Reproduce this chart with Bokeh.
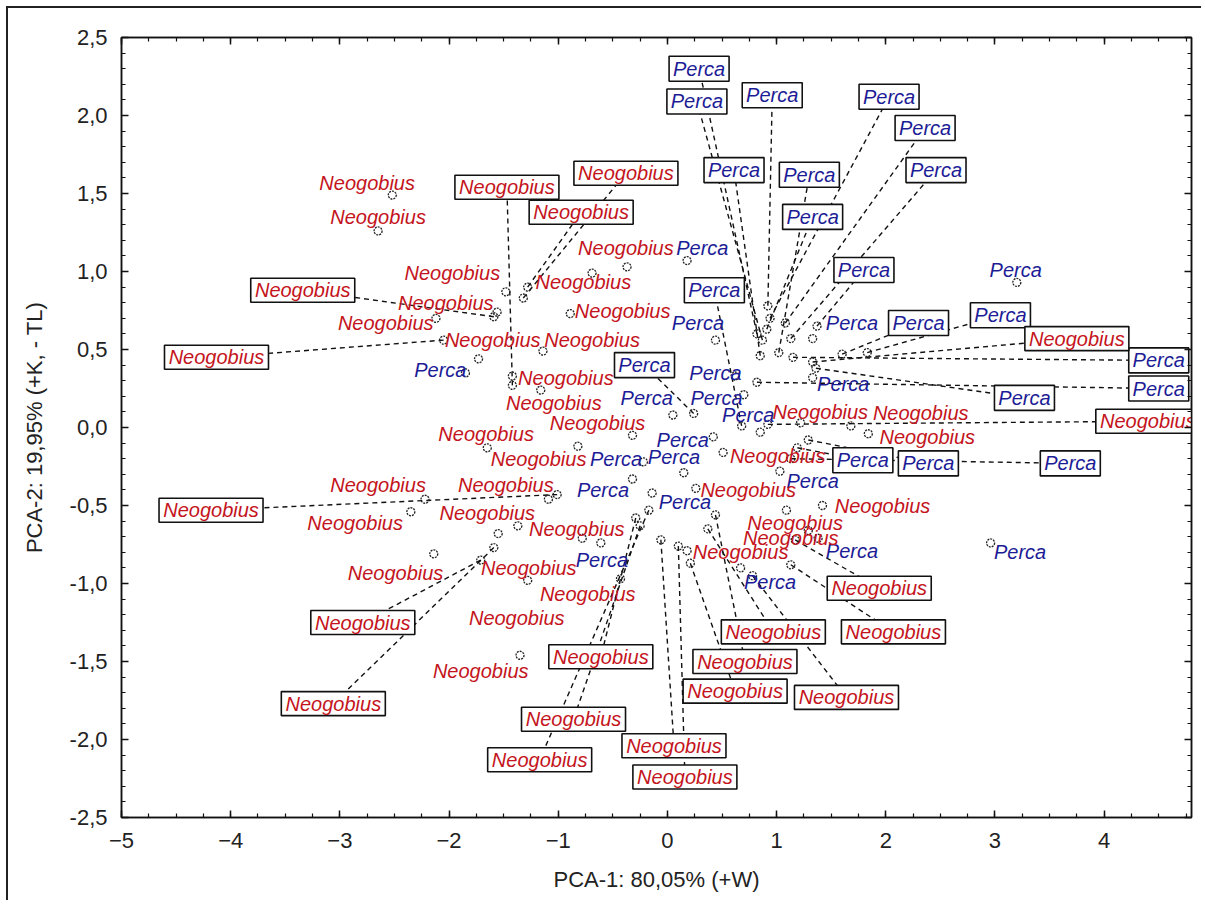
from bokeh.plotting import figure
from bokeh.models import (LinearAxis, FixedTicker, CustomJSTickFormatter,
                          ColumnDataSource, Range1d)
from bokeh.core.properties import value
from bokeh.embed import file_html
from bokeh.resources import INLINE

# ---------------- data (PCA scores) ----------------
# Perca, labels in boxes with leader lines
perca_box_pc1 = [0.82, 0.87, 0.92, 0.94, 1.08, 1.13, 0.85, 1.02, 0.91, 1.37,
                 1.60, 1.83, 1.15, 0.82, 1.36, 1.19, 1.29, 1.13, 0.68, 0.24]
perca_box_pc2 = [0.60, 0.56, 0.78, 0.70, 0.67, 0.57, 0.46, 0.48, 0.63, 0.65,
                 0.47, 0.48, 0.45, 0.29, 0.38, -0.13, -0.08, -0.20, 0.01, 0.09]
perca_box_lab_x = [0.29, 0.27, 0.96, 2.03, 2.36, 2.46, 0.61, 1.30, 1.33, 1.80,
                   2.30, 3.05, 4.50, 4.50, 3.27, 1.79, 2.39, 3.69, 0.43, -0.21]
perca_box_lab_y = [2.30, 2.09, 2.13, 2.12, 1.92, 1.65, 1.65, 1.62, 1.35, 1.01,
                   0.67, 0.72, 0.43, 0.25, 0.19, -0.21, -0.23, -0.23, 0.88, 0.40]

# Perca, plain labels
perca_pc1 = [0.18, 3.20, 0.44, 1.33, -1.85, 0.62, 1.33, 0.05, 0.70, 0.85,
             0.42, 0.15, -0.22, -0.32, -0.14, 1.03, -0.78, 1.38, 2.96, 0.67]
perca_pc2 = [1.07, 0.93, 0.56, 0.57, 0.35, 0.33, 0.32, 0.08, 0.21, -0.03,
             -0.06, -0.29, -0.22, -0.33, -0.42, -0.28, -0.71, -0.71, -0.74, -0.90]
perca_lab_x = [0.32, 3.19, 0.28, 1.69, -2.08, 0.44, 1.61, -0.19, 0.45, 0.74,
               0.14, 0.06, -0.47, -0.59, 0.16, 1.33, -0.60, 1.69, 3.23, 0.94]
perca_lab_y = [1.15, 1.01, 0.67, 0.67, 0.37, 0.35, 0.28, 0.19, 0.19, 0.08,
               -0.08, -0.19, -0.20, -0.40, -0.48, -0.34, -0.85, -0.79, -0.80, -0.99]

# Neogobius, labels in boxes with leader lines
neo_box_pc1 = [-1.32, -1.42, -1.28, -1.59, -2.05, 1.33, 0.92, 1.17, 1.13, 0.37,
               0.44, 0.21, 0.78, -0.29, -0.25, -0.17, -0.06, 0.10, -1.71, -1.59, -1.01]
neo_box_pc2 = [0.83, 0.27, 0.90, 0.71, 0.56, 0.42, 0.02, -0.72, -0.88, -0.65,
               -0.56, -0.87, -0.95, -0.58, -0.63, -0.53, -0.72, -0.76, -0.85, -0.77, -0.43]
neo_box_lab_x = [-0.38, -1.47, -0.79, -3.34, -4.13, 3.75, 4.40, 1.94, 2.07, 0.97,
                 0.71, 0.62, 1.64, -0.61, -0.86, -1.17, 0.06, 0.16, -2.79, -3.06, -4.18]
neo_box_lab_y = [1.63, 1.54, 1.38, 0.88, 0.45, 0.57, 0.04, -1.03, -1.31, -1.31,
                 -1.50, -1.69, -1.73, -1.47, -1.87, -2.13, -2.04, -2.24, -1.25, -1.77, -0.53]

# Neogobius, plain labels
neo_pc1 = [-2.52, -2.65, -1.48, -1.56, -2.12, -1.73, -1.14, -0.37, -0.69, -0.89,
           -1.42, -1.16, -0.32, -1.65, -0.82, -2.22, -1.09, -2.35, -1.37, -0.61,
           -2.14, -1.28, -0.43, -1.55, -1.35, 0.26, 0.18, 1.22, 1.68, 1.84,
           1.09, 1.42, 1.29, 0.51]
neo_pc2 = [1.49, 1.26, 0.87, 0.74, 0.70, 0.44, 0.49, 1.03, 0.99, 0.73,
           0.33, 0.24, -0.05, -0.13, -0.12, -0.46, -0.46, -0.54, -0.63, -0.74,
           -0.81, -0.98, -0.97, -0.68, -1.46, -0.39, -0.79, 0.03, 0.01, -0.04,
           -0.53, -0.50, -0.66, -0.16]
neo_lab_x = [-2.75, -2.65, -1.97, -2.03, -2.58, -1.60, -0.69, -0.38, -0.77, -0.41,
             -0.93, -1.04, -0.64, -1.66, -1.18, -2.65, -1.48, -2.86, -1.65, -0.83,
             -2.49, -1.27, -0.73, -1.38, -1.71, 0.74, 0.67, 1.40, 2.32, 2.38,
             1.17, 1.97, 1.13, 1.01]
neo_lab_y = [1.57, 1.35, 0.99, 0.80, 0.67, 0.56, 0.56, 1.15, 0.93, 0.75,
             0.32, 0.16, 0.03, -0.04, -0.20, -0.37, -0.37, -0.61, -0.55, -0.65,
             -0.93, -0.90, -1.07, -1.22, -1.56, -0.40, -0.80, 0.10, 0.09, -0.06,
             -0.61, -0.50, -0.71, -0.18]

x_ticks = [-5, -4, -3, -2, -1, 0, 1, 2, 3, 4]
y_ticks = [-2.5, -2.0, -1.5, -1.0, -0.5, 0.0, 0.5, 1.0, 1.5, 2.0, 2.5]

RED = "#c41420"
BLUE = "#1c1c96"
FONT = "Liberation Sans"

# ---------------- figure ----------------
p = figure(frame_width=1070, frame_height=780,
           x_range=Range1d(-5, 4.8), y_range=Range1d(-2.5, 2.5),
           output_backend="svg", toolbar_location=None,
           background_fill_color="white", border_fill_color="white")
p.min_border_left = 113
p.min_border_right = 10
p.min_border_top = 29
p.min_border_bottom = 83
p.styles = {"margin-left": "6px", "margin-top": "6px",
            "border-top": "2px solid #222", "border-left": "2px solid #222"}
p.xgrid.visible = False
p.ygrid.visible = False
p.outline_line_color = "#111"
p.outline_line_width = 1.5

x_minor = [-5 + 0.25 * i for i in range(40)]
y_minor = [round(-2.5 + 0.1 * i, 2) for i in range(51)]
xt = FixedTicker(ticks=x_ticks, minor_ticks=x_minor)
yt = FixedTicker(ticks=y_ticks, minor_ticks=y_minor)
yfmt = CustomJSTickFormatter(code="return tick.toFixed(1).replace('.', ',');")


def style_axis(ax, labels=True):
    ax.axis_line_color = "#111"
    ax.axis_line_width = 1.5
    ax.major_tick_in = 7
    ax.major_tick_out = 0
    ax.minor_tick_in = 4
    ax.minor_tick_out = 0
    ax.major_tick_line_color = "#111"
    ax.minor_tick_line_color = "#111"
    ax.major_tick_line_width = 1.5
    ax.minor_tick_line_width = 1.2
    if labels:
        ax.major_label_text_font = FONT
        ax.major_label_text_font_size = "22px"
        ax.major_label_text_color = "#222"
        ax.axis_label_text_font = FONT
        ax.axis_label_text_font_size = "22px"
        ax.axis_label_text_font_style = "normal"
        ax.axis_label_text_color = "#222"
    else:
        ax.major_label_text_color = None
        ax.major_label_text_font_size = "1px"
        ax.major_label_standoff = 0


p.xaxis.ticker = xt
p.yaxis.ticker = yt
p.yaxis.formatter = yfmt
style_axis(p.xaxis[0])
style_axis(p.yaxis[0])
p.xaxis.axis_label = "PCA-1: 80,05% (+W)"
p.yaxis.axis_label = "PCA-2: 19,95% (+K, - TL)"
p.xaxis.major_label_standoff = 15
p.xaxis.axis_label_standoff = 16
p.yaxis.major_label_standoff = 14
p.yaxis.axis_label_standoff = 20

top_ax = LinearAxis(ticker=FixedTicker(ticks=x_ticks, minor_ticks=x_minor))
right_ax = LinearAxis(ticker=FixedTicker(ticks=y_ticks, minor_ticks=y_minor))
style_axis(top_ax, labels=False)
style_axis(right_ax, labels=False)
p.add_layout(top_ax, "above")
p.add_layout(right_ax, "right")

# ---------------- glyphs ----------------
src_pb = ColumnDataSource(dict(x=perca_box_pc1, y=perca_box_pc2,
                               lx=perca_box_lab_x, ly=perca_box_lab_y,
                               t=["Perca"] * len(perca_box_pc1)))
src_p = ColumnDataSource(dict(x=perca_pc1, y=perca_pc2,
                              lx=perca_lab_x, ly=perca_lab_y,
                              t=["Perca"] * len(perca_pc1)))
src_nb = ColumnDataSource(dict(x=neo_box_pc1, y=neo_box_pc2,
                               lx=neo_box_lab_x, ly=neo_box_lab_y,
                               t=["Neogobius"] * len(neo_box_pc1)))
src_n = ColumnDataSource(dict(x=neo_pc1, y=neo_pc2,
                              lx=neo_lab_x, ly=neo_lab_y,
                              t=["Neogobius"] * len(neo_pc1)))

# leader lines
for src in (src_pb, src_nb):
    p.segment(x0="x", y0="y", x1="lx", y1="ly", source=src,
              line_color="#111", line_width=1.4, line_dash="5 4")

# points
for src in (src_pb, src_p, src_nb, src_n):
    p.scatter(x="x", y="y", source=src, marker="circle", size=8,
              fill_color=None, line_color="#222", line_width=1.3,
              line_dash="2 1")

# label boxes
p.rect(x="lx", y="ly", width=60, height=25, width_units="screen",
       height_units="screen", source=src_pb, fill_color="white",
       line_color="#111", line_width=1.6)
p.rect(x="lx", y="ly", width=104, height=24, width_units="screen",
       height_units="screen", source=src_nb, fill_color="white",
       line_color="#111", line_width=1.6)

# texts
for src, col in ((src_p, BLUE), (src_pb, BLUE), (src_n, RED), (src_nb, RED)):
    p.text(x="lx", y="ly", text="t", source=src, text_color=col,
           text_font=value(FONT), text_font_style="italic",
           text_font_size="20px", text_align="center",
           text_baseline="middle")

open("out.html", "w").write(file_html(p, INLINE))
